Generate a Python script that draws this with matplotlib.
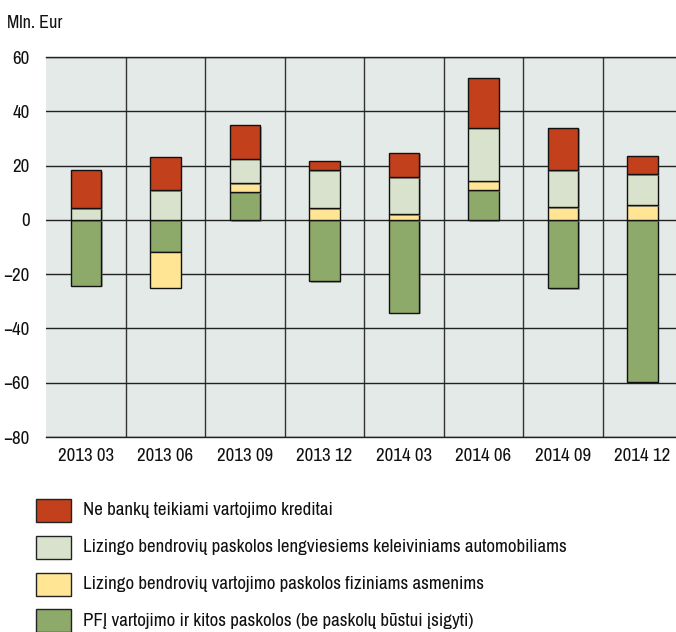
import matplotlib
matplotlib.use("Agg")
import matplotlib.pyplot as plt
import matplotlib.patheffects as pe
from matplotlib import font_manager
from matplotlib.patches import Rectangle
import numpy as np

categories = ["2013 03", "2013 06", "2013 09", "2013 12", "2014 03", "2014 06", "2014 09", "2014 12"]
series_names = [
    "Ne bankų teikiami vartojimo kreditai",
    "Lizingo bendrovių paskolos lengviesiems keleiviniams automobiliams",
    "Lizingo bendrovių vartojimo paskolos fiziniams asmenims",
    "PFĮ vartojimo ir kitos paskolos (be paskolų būstui įsigyti)",
]
pfi = [-24.3, -11.9, 10.2, -22.6, -34.2, 10.9, -25.2, -59.6]
lizingo_vart = [0.0, -13.1, 3.3, 4.3, 2.0, 3.5, 4.6, 5.4]
lizingo_auto = [4.4, 10.9, 9.0, 14.0, 13.7, 19.6, 13.7, 11.4]
ne_banku = [14.0, 12.4, 12.5, 3.4, 9.1, 18.2, 15.7, 6.6]
yticks = [-80, -60, -40, -20, 0, 20, 40, 60]

colors = {
    "ne_banku": "#c2401b",
    "auto": "#d9e2cc",
    "vart": "#ffe594",
    "pfi": "#8eaa6b",
}

# pick a condensed font if one is installed
cond = None
for f in font_manager.fontManager.ttflist:
    nm = f.name.lower()
    if "narrow" in nm or "condensed" in nm:
        cond = ("family", f.name, None)
        break
if cond is None:
    for f in font_manager.fontManager.ttflist:
        st = str(f.stretch).lower()
        if st in ("condensed", "semi-condensed", "extra-condensed") or (isinstance(f.stretch, int) and f.stretch < 500):
            if f.style == "normal" and f.weight in (400, "normal", "regular"):
                cond = ("stretch", f.name, f.stretch)
                break
if cond is not None and cond[0] == "family":
    plt.rcParams["font.family"] = [cond[1], "DejaVu Sans"]
    narrow = True
elif cond is not None:
    plt.rcParams["font.family"] = [cond[1], "DejaVu Sans"]
    plt.rcParams["font.stretch"] = cond[2]
    narrow = True
else:
    plt.rcParams["font.family"] = ["Liberation Sans", "DejaVu Sans"]
    narrow = False

tick_fs = 13.6 if narrow else 12
unit_fs = 13 if narrow else 12
leg_fs = 13.6 if narrow else 11

fig = plt.figure(figsize=(6.76, 6.32), dpi=100)
ax = fig.add_axes([46.25 / 676, 195 / 632, 636 / 676, 380 / 632])
ax.set_facecolor("#e4eae8")

x = np.arange(len(categories))
width = 0.38
stack_order = [
    (pfi, colors["pfi"]),
    (lizingo_vart, colors["vart"]),
    (lizingo_auto, colors["auto"]),
    (ne_banku, colors["ne_banku"]),
]
pos_base = np.zeros(len(x))
neg_base = np.zeros(len(x))
shadow = [pe.SimplePatchShadow(offset=(1.2, -1.2), shadow_rgbFace="#777777", alpha=0.6), pe.Normal()]
for vals, col in stack_order:
    vals = np.array(vals, dtype=float)
    bottoms = np.where(vals >= 0, pos_base, neg_base)
    bars = ax.bar(x, vals, width=width, bottom=bottoms, color=col, edgecolor="#111111",
                  linewidth=1.0, zorder=3)
    for b in bars:
        b.set_path_effects(shadow)
    pos_base = pos_base + np.where(vals >= 0, vals, 0)
    neg_base = neg_base + np.where(vals < 0, vals, 0)

ax.set_xlim(-0.5, len(categories) - 0.5)
ax.set_ylim(-80, 60)
ax.set_yticks(yticks)
ax.set_yticklabels([("\u2212%d" % -t if t < 0 else str(t)) for t in yticks])
ax.set_xticks(x)
ax.set_xticklabels(categories)
ax.set_xticks(np.arange(len(categories)) + 0.5, minor=True)
ax.tick_params(axis="both", which="both", length=0, labelsize=tick_fs, colors="#111111")
ax.tick_params(axis="x", pad=8)
ax.tick_params(axis="y", pad=12)
ax.grid(True, axis="y", which="major", color="#222222", linewidth=1.0, zorder=1)
ax.grid(True, axis="x", which="minor", color="#333333", linewidth=1.0, zorder=1)
ax.grid(False, axis="x", which="major")
ax.set_axisbelow(True)
for s in ["left", "right"]:
    ax.spines[s].set_visible(False)
for s in ["top", "bottom"]:
    ax.spines[s].set_color("#222222")
    ax.spines[s].set_linewidth(1.0)

fig.text(7 / 676, 1 - 23 / 632, "Mln. Eur", fontsize=unit_fs, va="center", ha="left", color="#111111")

legend_colors = [colors["ne_banku"], colors["auto"], colors["vart"], colors["pfi"]]
for i, (name, col) in enumerate(zip(series_names, legend_colors)):
    yc = 510 + i * 37
    rect = Rectangle((36 / 676, 1 - (yc + 11.5) / 632), 35 / 676, 23 / 632,
                     transform=fig.transFigure, facecolor=col, edgecolor="#222222", linewidth=1.0)
    fig.patches.append(rect)
    fig.text(83 / 676, 1 - yc / 632, name, fontsize=leg_fs, va="center", ha="left", color="#111111")

fig.savefig("out.png", dpi=100)
